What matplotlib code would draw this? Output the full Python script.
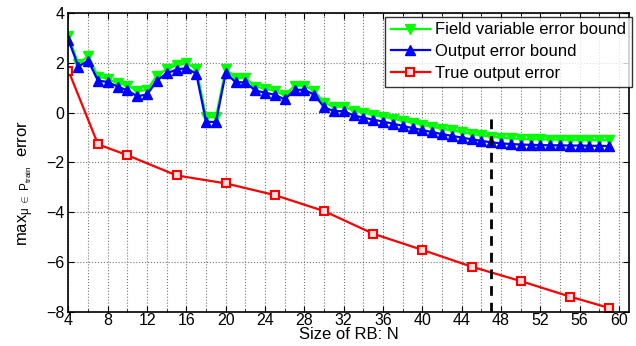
import matplotlib
matplotlib.use("Agg")
import matplotlib.pyplot as plt
from matplotlib.ticker import MultipleLocator

plt.rcParams['font.family'] = ['Liberation Sans', 'DejaVu Sans']
plt.rcParams['mathtext.fontset'] = 'custom'
plt.rcParams['mathtext.rm'] = 'Liberation Sans'
plt.rcParams['mathtext.it'] = 'Liberation Sans:italic'

# RB sizes for the bound curves (every N from 4 to 59)
n_bound = list(range(4, 60))

field_bound = [3.09, 1.95, 2.27, 1.45, 1.36, 1.18, 1.09, 0.86, 0.92, 1.49,
               1.76, 1.92, 1.98, 1.76, -0.18, -0.18, 1.76, 1.40, 1.40, 1.05,
               0.96, 0.88, 0.69, 1.08, 1.08, 0.88, 0.40, 0.24, 0.24, 0.08,
               0.00, -0.08, -0.16, -0.24, -0.32, -0.40, -0.48, -0.56, -0.64, -0.71,
               -0.78, -0.85, -0.91, -0.96, -1.00, -1.03, -1.05, -1.06, -1.07, -1.08,
               -1.08, -1.09, -1.09, -1.10, -1.10, -1.10]

output_bound = [2.92, 1.85, 2.09, 1.29, 1.23, 1.05, 0.89, 0.66, 0.73, 1.29,
                1.58, 1.73, 1.79, 1.56, -0.37, -0.37, 1.60, 1.22, 1.22, 0.89,
                0.80, 0.72, 0.53, 0.92, 0.92, 0.72, 0.22, 0.06, 0.06, -0.11,
                -0.20, -0.28, -0.36, -0.44, -0.53, -0.62, -0.70, -0.78, -0.86, -0.93,
                -1.00, -1.07, -1.13, -1.19, -1.23, -1.26, -1.28, -1.29, -1.30, -1.31,
                -1.31, -1.32, -1.32, -1.33, -1.33, -1.34]

# true output error, sampled at fewer N
n_true = [4, 7, 10, 15, 20, 25, 30, 35, 40, 45, 50, 55, 59]
true_err = [1.68, -1.27, -1.71, -2.52, -2.84, -3.31, -3.95, -4.86, -5.51, -6.18, -6.76, -7.38, -7.84]

n_chosen = 47

fig = plt.figure(figsize=(6.36, 3.46), dpi=100)
ax = fig.add_axes([0.1077, 0.0983, 0.8810, 0.8641])

ax.plot(n_bound, field_bound, color='#00ff00', lw=1.6, marker='v', ms=7,
        mfc='#00ff00', mec='#00ff00', label='Field variable error bound')
ax.plot(n_bound, output_bound, color='#0000ff', lw=1.6, marker='^', ms=7,
        mfc='#0000ff', mec='#0000ff', label='Output error bound')
ax.plot(n_true, true_err, color='#ff0000', lw=1.6, marker='s', ms=5.5,
        mfc='#ffdddd', mec='#ff0000', mew=1.5, label='True output error')
ax.plot([n_chosen, n_chosen], [-8, -0.2], color='black', lw=2, ls=(0, (3.5, 2.5)))

ax.set_xlim(4, 61)
ax.set_ylim(-8, 4)
ax.xaxis.set_major_locator(MultipleLocator(4))
ax.xaxis.set_minor_locator(MultipleLocator(2))
ax.yaxis.set_major_locator(MultipleLocator(2))
ax.tick_params(which='both', direction='in', top=True, right=True, labelsize=11.5)
ax.tick_params(which='major', length=4)
ax.tick_params(which='minor', length=2)
ax.tick_params(axis='x', pad=1)
ax.tick_params(axis='y', pad=3)
ax.grid(True, which='both', axis='x', ls=':', color='#777777', lw=0.8)
ax.grid(True, which='major', axis='y', ls=':', color='#777777', lw=0.8)
for s in ax.spines.values():
    s.set_linewidth(1.2)

ax.set_xlabel('Size of RB: N', fontsize=12, labelpad=-1)
ax.set_ylabel(r'max$_{\mathrm{\mu}\;\in\;\mathrm{P}_{\mathrm{train}}}$  error', fontsize=12)
ax.yaxis.set_label_coords(-0.058, 0.43)

leg = ax.legend(loc='upper right', bbox_to_anchor=(1.006, 0.988), fontsize=12,
                frameon=True, fancybox=False, edgecolor='black', borderaxespad=0,
                handlelength=2.3, labelspacing=0.4, borderpad=0.35, handletextpad=0.35)
leg.get_frame().set_linewidth(1.0)

fig.savefig('out.png', dpi=100)
